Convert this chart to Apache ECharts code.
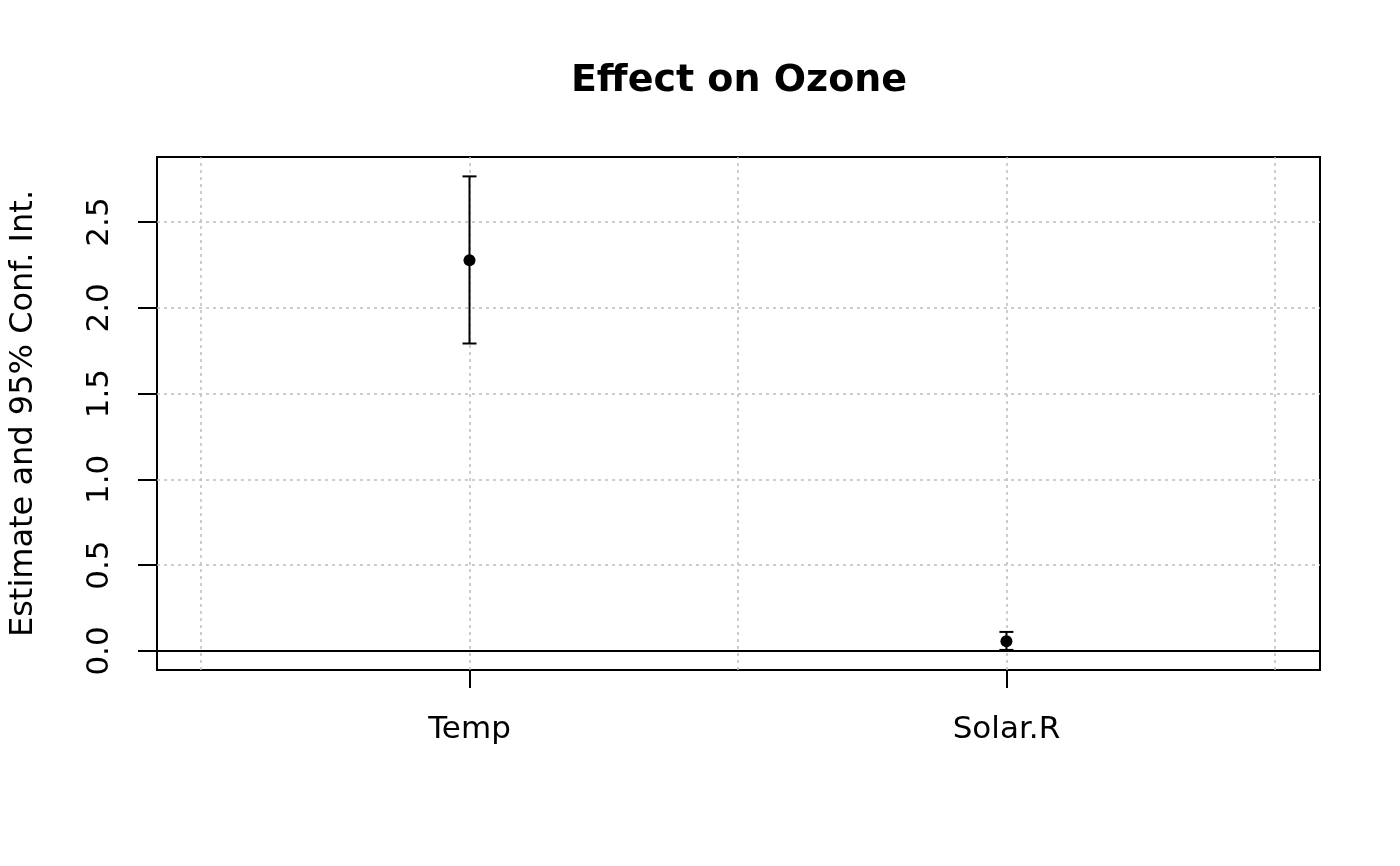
<!DOCTYPE html>
<html>
<head>
<meta charset="utf-8">
<script src="https://cdn.jsdelivr.net/npm/echarts@6/dist/echarts.min.js"></script>
<style>
  html, body { margin: 0; padding: 0; background: #fff; }
  #chart { width: 1400px; height: 866px; }
</style>
</head>
<body>
<div id="chart"></div>
<script>
// data
const terms = ['Temp', 'Solar.R'];
const termPos = [1, 2];
const estimates = [2.277, 0.056];
const lower = [1.792, 0.006];
const upper = [2.766, 0.111];
const yTicks = [0, 0.5, 1, 1.5, 2, 2.5];
const xGrid = [0.5, 1, 1.5, 2, 2.5];

const FONT = 'DejaVu Sans';
const chart = echarts.init(document.getElementById('chart'));

// error bar segments
const barData = termPos.map((p, i) => [p, lower[i], upper[i]]);
const pointData = termPos.map((p, i) => [p, estimates[i]]);

function renderBar(params, api) {
    const x = api.value(0);
    const top = api.coord([x, api.value(2)]);
    const bot = api.coord([x, api.value(1)]);
    const hw = 7;
    const st = { stroke: '#000', lineWidth: 2 };
    return {
        type: 'group',
        children: [
            { type: 'line', shape: { x1: top[0], y1: top[1], x2: bot[0], y2: bot[1] }, style: st },
            { type: 'line', shape: { x1: top[0] - hw, y1: top[1], x2: top[0] + hw, y2: top[1] }, style: st },
            { type: 'line', shape: { x1: bot[0] - hw, y1: bot[1], x2: bot[0] + hw, y2: bot[1] }, style: st }
        ]
    };
}

const gridLines = xGrid.map(v => ({ xAxis: v })).concat(yTicks.map(v => ({ yAxis: v })));

const option = {
    animation: false,
    backgroundColor: '#fff',
    title: {
        text: 'Effect on Ozone',
        left: 734,
        textAlign: 'center',
        top: 57,
        textStyle: { fontFamily: FONT, fontSize: 38, fontWeight: 'bold', color: '#000' }
    },
    grid: {
        left: 157, right: 80, top: 157, bottom: 196,
        show: true, borderColor: '#000', borderWidth: 2, backgroundColor: 'transparent'
    },
    xAxis: {
        type: 'value',
        min: 0.418, max: 2.584,
        axisLine: { show: false, onZero: false },
        splitLine: { show: false },
        axisTick: { show: true, inside: false, customValues: termPos, length: 18, lineStyle: { color: '#000', width: 2 } },
        axisLabel: {
            customValues: termPos,
            margin: 44,
            fontFamily: FONT, fontSize: 31, color: '#000',
            formatter: v => terms[termPos.indexOf(v)] || ''
        }
    },
    yAxis: {
        type: 'value',
        min: -0.111, max: 2.879,
        name: 'Estimate and 95% Conf. Int.',
        nameLocation: 'middle',
        nameRotate: 90,
        nameGap: 117,
        nameTextStyle: { fontFamily: FONT, fontSize: 32, color: '#000' },
        axisLine: { show: false, onZero: false },
        splitLine: { show: false },
        axisTick: { show: true, inside: false, customValues: yTicks, length: 19, lineStyle: { color: '#000', width: 2 } },
        axisLabel: {
            customValues: yTicks,
            rotate: 90,
            margin: 42,
            fontFamily: FONT, fontSize: 31, color: '#000',
            formatter: v => v.toFixed(1)
        }
    },
    series: [
        {
            type: 'line',
            data: [],
            silent: true,
            markLine: {
                silent: true,
                symbol: 'none',
                label: { show: false },
                lineStyle: { color: '#bdbdbd', type: [3, 4], width: 1.5 },
                data: gridLines
            }
        },
        {
            type: 'line',
            data: [],
            silent: true,
            markLine: {
                silent: true,
                symbol: 'none',
                label: { show: false },
                lineStyle: { color: '#000', type: 'solid', width: 2 },
                data: [{ yAxis: 0 }]
            }
        },
        {
            type: 'custom',
            renderItem: renderBar,
            data: barData,
            z: 5
        },
        {
            type: 'scatter',
            data: pointData,
            symbol: 'circle',
            symbolSize: 12,
            itemStyle: { color: '#000', opacity: 1 },
            z: 6
        }
    ]
};
chart.setOption(option);
window.addEventListener('resize', function() { chart.resize(); });
</script>
</body>
</html>
